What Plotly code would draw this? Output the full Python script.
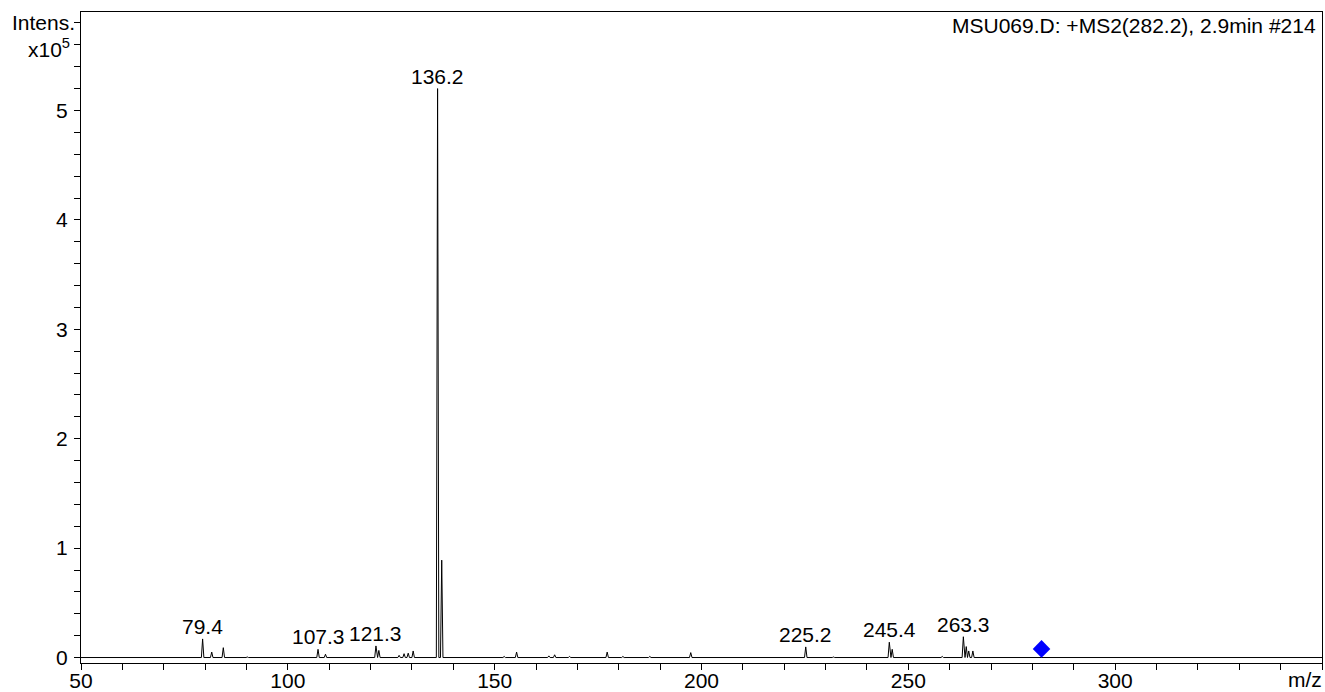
import plotly.graph_objects as go

# ---- data (m/z, intensity in units of 1e5) ----
peak_mz = [79.4, 81.6, 84.4, 90.2, 107.3, 109.1, 115.0, 121.3, 122.0, 126.9,
           128.1, 129.1, 130.3, 136.2, 137.2, 152.3, 155.3, 163.1, 164.5, 168.1,
           177.2, 181.0, 187.5, 197.4, 211.2, 225.2, 231.9, 245.4, 246.1, 258.2,
           263.3, 264.0, 264.6, 265.6]
peak_int = [0.17, 0.05, 0.09, 0.005, 0.075, 0.03, 0.005, 0.106, 0.065, 0.02,
            0.035, 0.04, 0.06, 5.2, 0.89, 0.01, 0.05, 0.015, 0.025, 0.01,
            0.05, 0.01, 0.01, 0.045, 0.005, 0.097, 0.005, 0.14, 0.075, 0.01,
            0.19, 0.10, 0.06, 0.06]

label_mz = [79.4, 107.3, 121.3, 136.2, 225.2, 245.4, 263.3]
label_text = ["79.4", "107.3", "121.3", "136.2", "225.2", "245.4", "263.3"]

precursor_mz = [282.2]
precursor_int = [0.079]

x_min, x_max = 50, 350
x_tickvals = [50, 100, 150, 200, 250, 300]
y_tickvals = [0, 1, 2, 3, 4, 5]
y_unit_labels = [("Intens.", 5.8), ("x10<sup>5</sup>", 5.6)]
title_text = "MSU069.D: +MS2(282.2), 2.9min #214"

FS = 21

# ---- build profile line from the peak list ----
hw = 0.3
xs, ys = [x_min], [0]
for m, h in sorted(zip(peak_mz, peak_int)):
    xs += [m - hw, m, m + hw]
    ys += [0, h, 0]
xs.append(x_max)
ys.append(0)

fig = go.Figure()
fig.add_trace(go.Scatter(x=xs, y=ys, mode="lines",
                         line=dict(color="black", width=1),
                         hoverinfo="skip", showlegend=False))
fig.add_trace(go.Scatter(x=precursor_mz, y=precursor_int, mode="markers",
                         marker=dict(symbol="diamond", size=13.5, color="#0000FF",
                                     line=dict(width=0)),
                         hoverinfo="skip", showlegend=False))

lookup = dict(zip(peak_mz, peak_int))
for m, t in zip(label_mz, label_text):
    fig.add_annotation(x=m, y=lookup[m], text=t, showarrow=False,
                       xanchor="center", yanchor="bottom", yshift=-1,
                       font=dict(size=FS, color="black"))

fig.add_annotation(x=1, y=1, xref="paper", yref="paper", text=title_text,
                   showarrow=False, xanchor="right", yanchor="top",
                   xshift=-4, yshift=0, font=dict(size=FS, color="black"))
fig.add_annotation(x=1, y=0, xref="paper", yref="paper", text="m/z",
                   showarrow=False, xanchor="right", yanchor="top",
                   xshift=2, yshift=-3, font=dict(size=FS, color="black"))

# unit labels at the top of the intensity axis
fig.add_annotation(x=0, y=y_unit_labels[0][1], xref="paper", yref="y",
                   text=y_unit_labels[0][0], showarrow=False,
                   xanchor="right", yanchor="middle", xshift=-4, yshift=0,
                   font=dict(size=FS, color="black"))
fig.add_annotation(x=0, y=y_unit_labels[1][1], xref="paper", yref="y",
                   text=y_unit_labels[1][0], showarrow=False,
                   xanchor="right", yanchor="middle", xshift=-9, yshift=-3,
                   font=dict(size=FS, color="black"))

axis_common = dict(showline=True, linecolor="black", linewidth=1, mirror=True,
                   showgrid=False, zeroline=False, ticks="outside",
                   tickcolor="black", ticklen=6, tickwidth=1, automargin=False)

fig.update_layout(
    width=1325, height=692,
    margin=dict(l=81, r=3, t=12, b=29),
    paper_bgcolor="white", plot_bgcolor="white",
    font=dict(family="Liberation Sans, Arial, sans-serif", size=FS, color="black"),
    showlegend=False,
    xaxis=dict(range=[x_min, x_max], tickvals=x_tickvals, ticklabelstandoff=-7,
               minor=dict(dtick=10, tick0=50, ticks="outside", ticklen=6,
                          tickcolor="black", showgrid=False),
               **axis_common),
    yaxis=dict(range=[-0.05, 5.9], tickvals=y_tickvals,
               ticklabelstandoff=2,
               minor=dict(dtick=0.2, tick0=0, ticks="outside", ticklen=6,
                          tickcolor="black", showgrid=False),
               **axis_common),
)

# remove the default page margin so the figure fills the window exactly
fig.write_html(
    "out.html",
    config={"displayModeBar": False},
    post_script="document.body.style.margin='0';document.body.style.overflow='hidden';",
)
